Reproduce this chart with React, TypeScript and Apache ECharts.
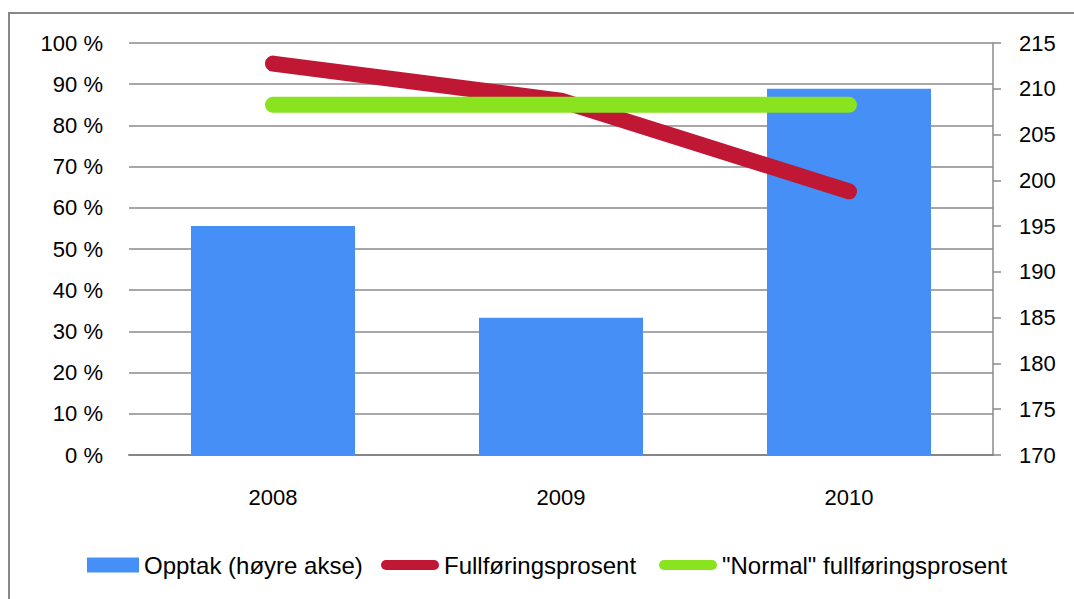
import React, { useEffect, useRef } from "react";
import * as echarts from "echarts";

const categories = ["2008", "2009", "2010"];
const opptak = [195, 185, 210];
const fullforing = [95, 86, 64];
const normal = [85, 85, 85];

const FONT = '"Liberation Sans", Arial, sans-serif';
const STADIUM = "path://M5,0H53A5,5 0 0 1 53,10H5A5,5 0 0 1 5,0Z";

export default function App() {
  const ref = useRef<HTMLDivElement>(null);
  useEffect(() => {
    document.body.style.margin = "0";
    const chart = echarts.init(ref.current!, null, { renderer: "svg" });
    const legendBase = {
      top: 553,
      padding: 0,
      orient: "horizontal" as const,
      selectedMode: false,
      textStyle: { fontFamily: FONT, fontSize: 24, color: "#000" },
    };
    chart.setOption({
      animation: false,
      backgroundColor: "#fff",
      textStyle: { fontFamily: FONT },
      graphic: [
        {
          type: "rect",
          shape: { x: 9, y: 13, width: 1200, height: 800 },
          style: { fill: "none", stroke: "#878787", lineWidth: 2 },
          silent: true,
        },
      ],
      grid: { left: 129, right: 81, top: 43, bottom: 144 },
      legend: [
        {
          ...legendBase,
          left: 87,
          itemWidth: 52,
          itemHeight: 15,
          data: [{ name: "Opptak (høyre akse)", icon: "rect" }],
        },
        {
          ...legendBase,
          left: 381,
          itemWidth: 58,
          itemHeight: 10,
          data: [{ name: "Fullføringsprosent", icon: STADIUM }],
        },
        {
          ...legendBase,
          left: 659,
          itemWidth: 58,
          itemHeight: 10,
          data: [{ name: '"Normal" fullføringsprosent', icon: STADIUM }],
        },
      ],
      xAxis: {
        type: "category",
        data: categories,
        boundaryGap: true,
        axisLine: { show: true, lineStyle: { color: "#868686", width: 2 } },
        axisTick: { show: false },
        axisLabel: { fontFamily: FONT, fontSize: 22, color: "#000", margin: 31 },
      },
      yAxis: [
        {
          type: "value",
          min: 0,
          max: 100,
          interval: 10,
          position: "left",
          axisLine: { show: false },
          axisTick: { show: false },
          axisLabel: {
            fontFamily: FONT,
            fontSize: 22,
            color: "#000",
            margin: 26,
            formatter: (v: number) => v + " %",
          },
          splitLine: { show: true, lineStyle: { color: "#8a8a8a", width: 1.5 } },
        },
        {
          type: "value",
          min: 170,
          max: 215,
          interval: 5,
          position: "right",
          axisLine: { show: true, lineStyle: { color: "#8a8a8a", width: 1.5 } },
          axisTick: { show: true, length: 8, lineStyle: { color: "#8a8a8a", width: 1.5 } },
          axisLabel: { fontFamily: FONT, fontSize: 22, color: "#000", margin: 26 },
          splitLine: { show: false },
        },
      ],
      series: [
        {
          name: "Opptak (høyre akse)",
          type: "bar",
          yAxisIndex: 1,
          data: opptak,
          barWidth: 164,
          itemStyle: { color: "#468FF7" },
        },
        {
          name: "Fullføringsprosent",
          type: "line",
          yAxisIndex: 0,
          data: fullforing,
          symbol: "none",
          lineStyle: { color: "#BF1734", width: 16, cap: "round", join: "round" },
          itemStyle: { color: "#BF1734" },
        },
        {
          name: '"Normal" fullføringsprosent',
          type: "line",
          yAxisIndex: 0,
          data: normal,
          symbol: "none",
          lineStyle: { color: "#89E31E", width: 16, cap: "round", join: "round" },
          itemStyle: { color: "#89E31E" },
        },
      ],
    });
    return () => chart.dispose();
  }, []);
  return <div ref={ref} style={{ width: 1074, height: 599 }} />;
}
